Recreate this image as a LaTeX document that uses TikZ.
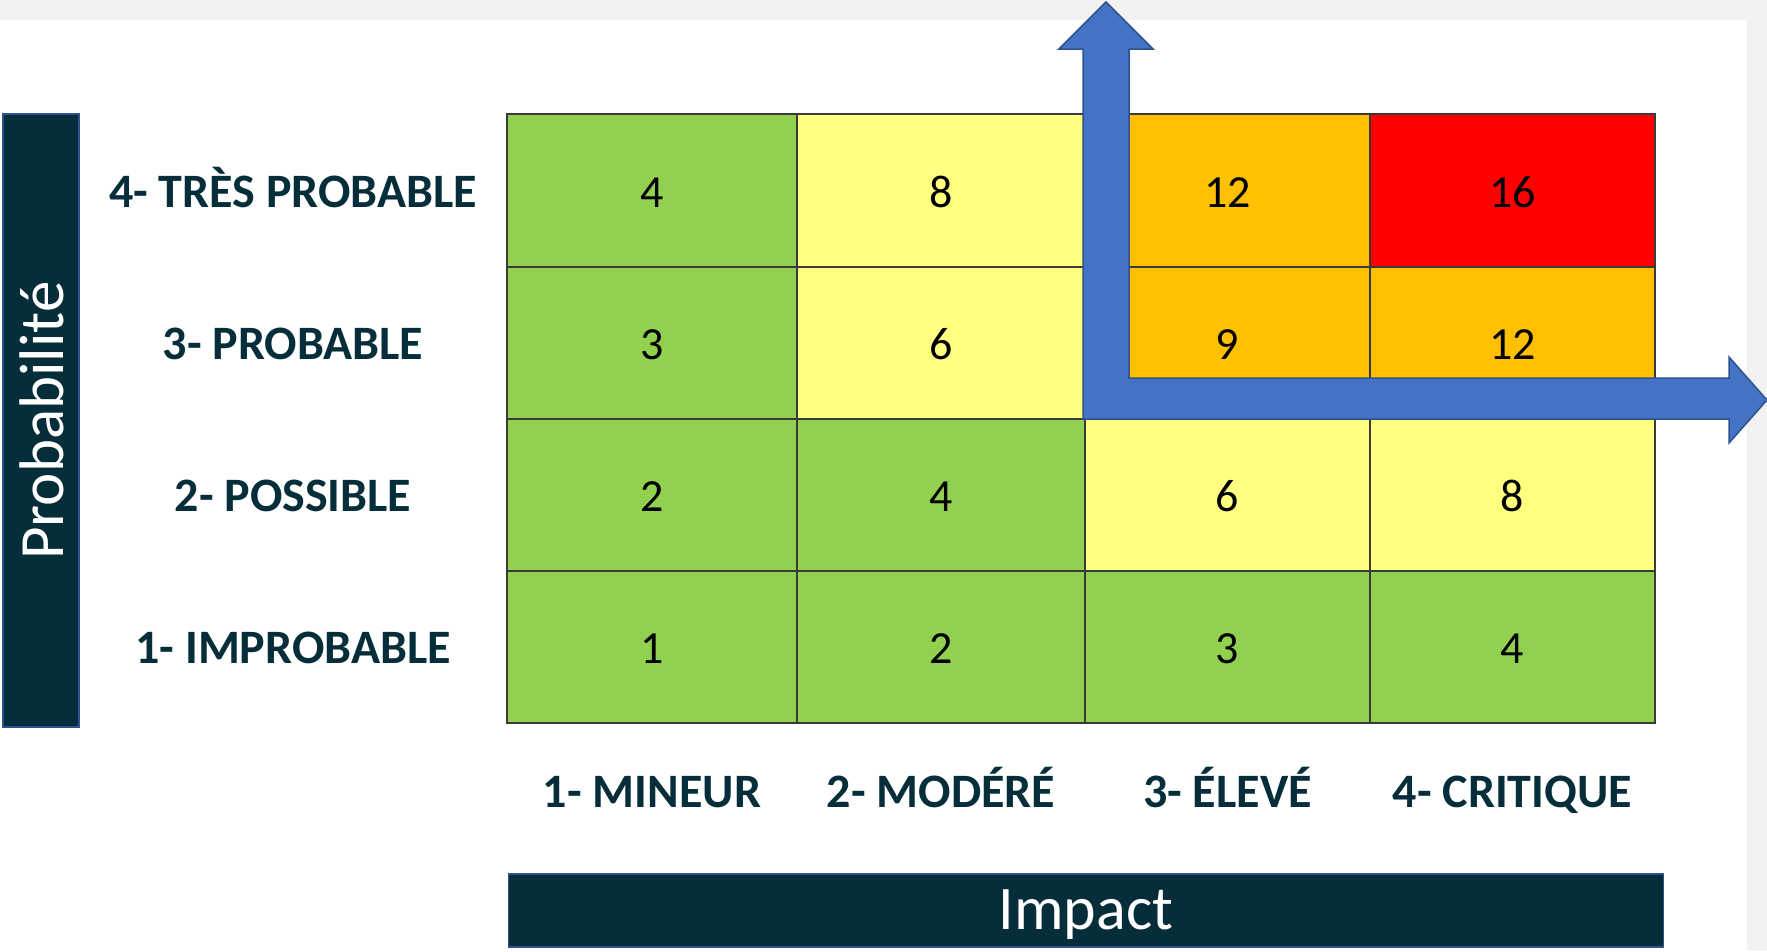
\documentclass[tikz,border=0pt]{standalone}
\usepackage{fontspec}
\setmainfont{Carlito}
\definecolor{bggray}{HTML}{F2F2F2}
\definecolor{darkteal}{HTML}{062E3A}
\definecolor{barline}{HTML}{2F528F}
\definecolor{cgreen}{HTML}{92D050}
\definecolor{cyellow}{HTML}{FFFF80}
\definecolor{corange}{HTML}{FFC000}
\definecolor{cred}{HTML}{FF0000}
\definecolor{arrowblue}{HTML}{4472C4}
\definecolor{gridline}{HTML}{3A3A3A}
\begin{document}
\begin{tikzpicture}[x=1pt,y=-1pt,
  cell/.style={draw=gridline, line width=1.6pt, inner sep=0pt},
  num/.style={anchor=base, inner sep=0pt, font=\fontsize{46}{50}\selectfont, text=black},
  axislabel/.style={anchor=base, text=darkteal, font=\bfseries\fontsize{48}{52}\selectfont, inner sep=0pt},
  bar/.style={fill=darkteal, draw=barline, line width=1.5pt, inner sep=0pt, text=white},
  bigarrow/.style={fill=arrowblue, draw=barline, line width=1.5pt, line join=miter}
]
\useasboundingbox (0,0) rectangle (1767,951);
\fill[bggray] (0,0) rectangle (1767,951);
\fill[white] (0,20) rectangle (1747,951);

% row 4 (top)
\node[cell, fill=cgreen,  minimum width=290pt, minimum height=153pt] (c41) at (652,190.5) {};
\node[cell, fill=cyellow, minimum width=288pt, minimum height=153pt] (c42) at (941,190.5) {};
\node[cell, fill=corange, minimum width=285pt, minimum height=153pt] (c43) at (1227.5,190.5) {};
\node[cell, fill=cred,    minimum width=285pt, minimum height=153pt] (c44) at (1512.5,190.5) {};
% row 3
\node[cell, fill=cgreen,  minimum width=290pt, minimum height=152pt] (c31) at (652,343) {};
\node[cell, fill=cyellow, minimum width=288pt, minimum height=152pt] (c32) at (941,343) {};
\node[cell, fill=corange, minimum width=285pt, minimum height=152pt] (c33) at (1227.5,343) {};
\node[cell, fill=corange, minimum width=285pt, minimum height=152pt] (c34) at (1512.5,343) {};
% row 2
\node[cell, fill=cgreen,  minimum width=290pt, minimum height=152pt] (c21) at (652,495) {};
\node[cell, fill=cgreen,  minimum width=288pt, minimum height=152pt] (c22) at (941,495) {};
\node[cell, fill=cyellow, minimum width=285pt, minimum height=152pt] (c23) at (1227.5,495) {};
\node[cell, fill=cyellow, minimum width=285pt, minimum height=152pt] (c24) at (1512.5,495) {};
% row 1
\node[cell, fill=cgreen,  minimum width=290pt, minimum height=152pt] (c11) at (652,647) {};
\node[cell, fill=cgreen,  minimum width=288pt, minimum height=152pt] (c12) at (941,647) {};
\node[cell, fill=cgreen,  minimum width=285pt, minimum height=152pt] (c13) at (1227.5,647) {};
\node[cell, fill=cgreen,  minimum width=285pt, minimum height=152pt] (c14) at (1512.5,647) {};

% cell values
\node[num] (v41) at ([yshift=-16.5pt]c41.center) {4};
\node[num] (v42) at ([yshift=-16.5pt]c42.center) {8};
\node[num] (v43) at ([yshift=-16.5pt]c43.center) {12};
\node[num] (v44) at ([yshift=-16.5pt]c44.center) {16};
\node[num] (v31) at ([yshift=-16.5pt]c31.center) {3};
\node[num] (v32) at ([yshift=-16.5pt]c32.center) {6};
\node[num] (v33) at ([yshift=-16.5pt]c33.center) {9};
\node[num] (v34) at ([yshift=-16.5pt]c34.center) {12};
\node[num] (v21) at ([yshift=-16.5pt]c21.center) {2};
\node[num] (v22) at ([yshift=-16.5pt]c22.center) {4};
\node[num] (v23) at ([yshift=-16.5pt]c23.center) {6};
\node[num] (v24) at ([yshift=-16.5pt]c24.center) {8};
\node[num] (v11) at ([yshift=-16.5pt]c11.center) {1};
\node[num] (v12) at ([yshift=-16.5pt]c12.center) {2};
\node[num] (v13) at ([yshift=-16.5pt]c13.center) {3};
\node[num] (v14) at ([yshift=-16.5pt]c14.center) {4};

% row labels
\node[axislabel] (r4) at (293,207) {4- TRÈS PROBABLE};
\node[axislabel] (r3) at (293,359.5) {3- PROBABLE};
\node[axislabel] (r2) at (293,511.5) {2- POSSIBLE};
\node[axislabel] (r1) at (293,663.5) {1- IMPROBABLE};

% column labels
\node[axislabel] (k1) at (652,807) {1- MINEUR};
\node[axislabel] (k2) at (941,807) {2- MODÉRÉ};
\node[axislabel] (k3) at (1227.5,807) {3- ÉLEVÉ};
\node[axislabel] (k4) at (1512.5,807) {4- CRITIQUE};

% axis bars
\node[bar, minimum width=76pt, minimum height=613pt] (pbar) at (41,420.5) {};
\node[text=white, rotate=90, font=\fontsize{63}{66}\selectfont, inner sep=0pt] (ptxt) at ([xshift=1pt]pbar.center) {Probabilité};
\node[bar, minimum width=1155pt, minimum height=73pt] (ibar) at (1086,910.5) {};
\node[text=white, anchor=base, font=\fontsize{62}{66}\selectfont, inner sep=0pt] (itxt) at (1086,929) {Impact};

% blue arrows
\draw[bigarrow] (1083,419) -- (1083,49) -- (1059,49) -- (1106,2) -- (1153,49) -- (1129,49)
  -- (1129,378) -- (1729,378) -- (1729,357) -- (1767,400) -- (1729,443) -- (1729,419) -- cycle;
\end{tikzpicture}
\end{document}
